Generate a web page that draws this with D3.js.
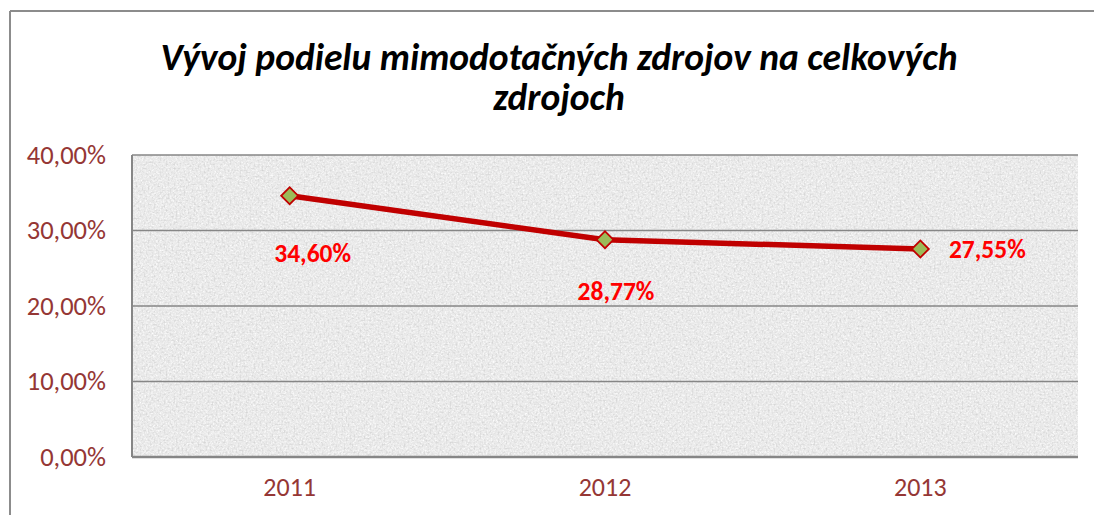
<!DOCTYPE html>
<html>
<head>
<meta charset="utf-8">
<script src="https://cdn.jsdelivr.net/npm/d3@7"></script>
<style>
html,body{margin:0;padding:0;background:#fff;}
svg{display:block;}
</style>
</head>
<body>
<script>
const categories = ["2011", "2012", "2013"];
const values = [34.60, 28.77, 27.55];
const valueLabels = ["34,60%", "28,77%", "27,55%"];
const yTicks = [0, 10, 20, 30, 40];
const yTickLabels = ["0,00%", "10,00%", "20,00%", "30,00%", "40,00%"];
const titleLines = ["Vývoj podielu mimodotačných zdrojov na celkových", "zdrojoch"];

const W = 1094, H = 515;
const font = "Carlito, Calibri, Lato, sans-serif";
const svg = d3.select("body").append("svg").attr("width", W).attr("height", H);

const defs = svg.append("defs");
const f = defs.append("filter").attr("id", "noise").attr("x", 0).attr("y", 0).attr("width", "100%").attr("height", "100%");
f.append("feTurbulence").attr("type", "fractalNoise").attr("baseFrequency", "0.6").attr("numOctaves", 3).attr("seed", 7).attr("result", "t");
f.append("feColorMatrix").attr("in", "t").attr("type", "matrix")
  .attr("values", "0 0 0 0 1  0 0 0 0 1  0 0 0 0 1  2.2 0 0 0 -0.95");
const f2 = defs.append("filter").attr("id", "noise2").attr("x", 0).attr("y", 0).attr("width", "100%").attr("height", "100%");
f2.append("feTurbulence").attr("type", "fractalNoise").attr("baseFrequency", "0.5").attr("numOctaves", 2).attr("seed", 19).attr("result", "t");
f2.append("feColorMatrix").attr("in", "t").attr("type", "matrix")
  .attr("values", "0 0 0 0 0.6  0 0 0 0 0.6  0 0 0 0 0.6  2.0 0 0 0 -0.95");

// outer chart border (left and top)
svg.append("line").attr("x1", 10).attr("x2", W).attr("y1", 11).attr("y2", 11).attr("stroke", "#8c8c8c").attr("stroke-width", 2);
svg.append("line").attr("x1", 10).attr("x2", 10).attr("y1", 11).attr("y2", H).attr("stroke", "#8c8c8c").attr("stroke-width", 2);

const plot = {left: 132, right: 1078, top: 155, bottom: 457};
const x = d3.scaleBand().domain(categories).range([plot.left, plot.right]);
const y = d3.scaleLinear().domain([0, 40]).range([plot.bottom, plot.top]);

// plot background
const pw = plot.right - plot.left, ph = plot.bottom - plot.top;
svg.append("rect").attr("x", plot.left).attr("y", plot.top).attr("width", pw).attr("height", ph).attr("fill", "#e9e9e9");
svg.append("rect").attr("x", plot.left).attr("y", plot.top).attr("width", pw).attr("height", ph).attr("fill", "#fff").attr("filter", "url(#noise)");
svg.append("rect").attr("x", plot.left).attr("y", plot.top).attr("width", pw).attr("height", ph).attr("fill", "#fff").attr("filter", "url(#noise2)");

// gridlines
svg.append("g").selectAll("line").data(yTicks.filter(d => d > 0)).join("line")
  .attr("x1", plot.left).attr("x2", plot.right)
  .attr("y1", d => y(d)).attr("y2", d => y(d))
  .attr("stroke", "#868686").attr("stroke-width", 1.5);

// left edge & bottom axis
svg.append("line").attr("x1", plot.left).attr("x2", plot.left).attr("y1", plot.top).attr("y2", plot.bottom).attr("stroke", "#868686").attr("stroke-width", 2);
svg.append("line").attr("x1", plot.left).attr("x2", plot.right).attr("y1", plot.bottom).attr("y2", plot.bottom).attr("stroke", "#868686").attr("stroke-width", 2.5);

// y axis labels
const yAxis = d3.axisLeft(y).tickValues(yTicks).tickFormat((d, i) => yTickLabels[i]).tickSize(0).tickPadding(26);
const ya = svg.append("g").attr("transform", `translate(${plot.left},0)`).call(yAxis);
ya.select(".domain").remove();
ya.selectAll("text").attr("font-family", font).attr("font-size", 26.5).attr("fill", "#953735");

// x axis labels
const xAxis = d3.axisBottom(x).tickSize(0).tickPadding(21);
const xa = svg.append("g").attr("transform", `translate(0,${plot.bottom})`).call(xAxis);
xa.select(".domain").remove();
xa.selectAll("text").attr("font-family", font).attr("font-size", 26).attr("fill", "#953735");

// line
const cx = d => x(d) + x.bandwidth() / 2;
const pts = categories.map((c, i) => [cx(c), y(values[i])]);
svg.append("path").datum(pts).attr("d", d3.line()).attr("fill", "none").attr("stroke", "#C00000").attr("stroke-width", 5.5).attr("stroke-linejoin", "round");

// markers
svg.append("g").selectAll("path").data(pts).join("path")
  .attr("transform", d => `translate(${d[0]},${d[1]}) rotate(45)`)
  .attr("d", "M-6,-6H6V6H-6Z")
  .attr("fill", "#9BBB59").attr("stroke", "#C00000").attr("stroke-width", 1.8);

// data labels
const labelOffsets = [[23, 66], [11, 60], [67, 9]];
svg.append("g").selectAll("text").data(pts).join("text")
  .attr("x", (d, i) => d[0] + labelOffsets[i][0])
  .attr("y", (d, i) => d[1] + labelOffsets[i][1])
  .attr("text-anchor", "middle")
  .attr("font-family", font).attr("font-size", 25.5).attr("font-weight", "bold").attr("fill", "#FF0000")
  .text((d, i) => valueLabels[i]);

// title (one text element, two lines)
const title = svg.append("text")
  .attr("text-anchor", "middle")
  .attr("font-family", font).attr("font-size", 37.5).attr("font-weight", "bold").attr("font-style", "italic").attr("fill", "#000");
title.selectAll("tspan").data(titleLines).join("tspan")
  .attr("x", 559).attr("y", (d, i) => 70 + i * 40)
  .text(d => d);
</script>
</body>
</html>
